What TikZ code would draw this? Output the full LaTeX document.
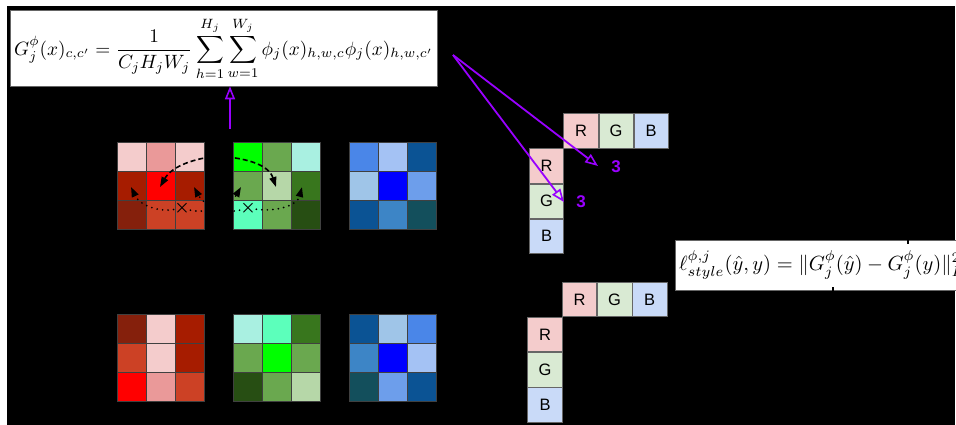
\documentclass[tikz,border=0pt]{standalone}
\usepackage{amsmath}
\usepackage{amssymb}
\usepackage{graphicx}
\usepackage{fontspec}
\newfontfamily\arial{Liberation Sans}
\usetikzlibrary{arrows.meta,positioning}
\definecolor{r1}{HTML}{F4CCCC}
\definecolor{r2}{HTML}{EA9999}
\definecolor{r3}{HTML}{A61C00}
\definecolor{r4}{HTML}{FF0000}
\definecolor{r5}{HTML}{85200C}
\definecolor{r6}{HTML}{CC4125}
\definecolor{g1}{HTML}{00FF00}
\definecolor{g2}{HTML}{6AA84F}
\definecolor{g3}{HTML}{A9F0E1}
\definecolor{g4}{HTML}{B6D7A8}
\definecolor{g5}{HTML}{38761D}
\definecolor{g6}{HTML}{5CFFBB}
\definecolor{g7}{HTML}{274E13}
\definecolor{b1}{HTML}{4A86E8}
\definecolor{b2}{HTML}{A4C2F4}
\definecolor{b3}{HTML}{0B5394}
\definecolor{b4}{HTML}{9FC5E8}
\definecolor{b5}{HTML}{0000FF}
\definecolor{b6}{HTML}{6D9EEB}
\definecolor{b7}{HTML}{3D85C6}
\definecolor{b8}{HTML}{134F5C}
\definecolor{pr}{HTML}{F4CCCC}
\definecolor{pg}{HTML}{D9EAD3}
\definecolor{pb}{HTML}{C9DAF8}
\definecolor{purp}{HTML}{9900FF}
\definecolor{boxline}{HTML}{666666}
\newcommand{\colgrid}[3]{%
  \foreach \cc [count=\k from 0] in {#3} {%
    \pgfmathtruncatemacro{\cx}{mod(\k,3)}%
    \pgfmathtruncatemacro{\cy}{div(\k,3)}%
    \filldraw[fill=\cc, draw=black!75, line width=0.8pt] ({#1+29*\cx},{#2+29*\cy}) rectangle ++(29,29);
  }}
\begin{document}
\begin{tikzpicture}[x=1pt,y=-1pt,
  rgbbox/.style={draw=boxline, line width=0.6pt, minimum width=34.5pt, minimum height=34.5pt, inner sep=0pt, font=\arial\fontsize{16.5}{18}\selectfont},
  eqbox/.style={fill=white, draw=boxline, line width=0.6pt, inner sep=0pt},
  purparrow/.style={draw=purp, line width=1.8pt, -{Triangle[open, length=13pt, width=10pt, line width=1.6pt]}},
  threelbl/.style={text=purp, font=\arial\bfseries\fontsize{17}{18}\selectfont, inner sep=0pt},
  dashline/.style={black, line width=1.6pt, dash pattern=on 5pt off 3pt, -{Triangle[length=10pt, width=7pt]}},
  dotline/.style={black, line width=1.9pt, line cap=round, dash pattern=on 0pt off 5.5pt, -{Triangle[length=10pt, width=7pt]}},
  xmark/.style={inner sep=0.5pt, font=\fontsize{16}{16}\selectfont}
]
\clip (0,0) rectangle (956,425);
\fill[white] (0,0) rectangle (956,425);
\fill[black] (7,6) rectangle (955,425);

% Gram formula box
\node[eqbox, minimum width=427pt, minimum height=76pt] (gram) at (223.5,48) {};
\node[anchor=west, inner sep=0pt] (gramtxt) at (14,49) {\scalebox{1.925}{$\displaystyle G_j^{\phi}(x)_{c,c'}=\frac{1}{C_jH_jW_j}\sum_{h=1}^{H_j}\sum_{w=1}^{W_j}\phi_j(x)_{h,w,c}\phi_j(x)_{h,w,c'}$}};

% loss box
\node[eqbox, anchor=north west, minimum width=320pt, minimum height=50pt] (loss) at (675,240) {};
\node[anchor=west, inner sep=0pt] (losstxt) at (679,265) {\scalebox{2.05}{$\ell^{\phi,j}_{style}(\hat{y},y)=\|G^{\phi}_j(\hat{y})-G^{\phi}_j(y)\|^2_F$}};
\coordinate (tkA) at (908,228);
\coordinate (tkB) at (833,302);
\draw[black, line width=1.6pt] (tkA) -- (tkA |- loss.north) -- ++(0,4);
\draw[black, line width=1.6pt] (tkB) -- (tkB |- loss.south) -- ++(0,-4);

% grids top
\colgrid{117}{142}{r1,r2,r1,r3,r4,r3,r5,r6,r6}
\colgrid{233}{142}{g1,g2,g3,g2,g4,g5,g6,g2,g7}
\colgrid{349}{142}{b1,b2,b3,b4,b5,b6,b3,b7,b8}
% grids bottom
\colgrid{117}{314}{r5,r1,r3,r6,r1,r3,r4,r2,r6}
\colgrid{233}{314}{g3,g6,g5,g2,g1,g2,g7,g2,g4}
\colgrid{349}{314}{b3,b4,b1,b7,b5,b2,b8,b6,b3}

% dashed arrows
\coordinate (ds) at (219,156);
\draw[dashline] (ds) .. controls (195,158) and (172,166) .. (160,187);
\draw[dashline] (ds) .. controls (242,158) and (268,163) .. (276,187);

% x marks and dotted arrows
\node[xmark] (x1) at (182,208) {$\boldsymbol{\times}$};
\node[xmark] (x2) at (248,208) {$\boldsymbol{\times}$};
\draw[dotline] (x1) .. controls (160,212) and (140,206) .. (131,187);
\draw[dotline] (x1) .. controls (205,214) and (230,206) .. (241,187);
\draw[dotline] (x2) .. controls (225,214) and (204,206) .. (194,187);
\draw[dotline] (x2) .. controls (275,212) and (297,206) .. (302,187);

% up arrow
\coordinate (up) at (230,129);
\draw[purparrow] (up) -- (up |- gram.south);

% RGB boxes top
\node[rgbbox, fill=pr] (tR) at (581,131) {R};
\node[rgbbox, fill=pg, right=0pt of tR] (tG) {G};
\node[rgbbox, fill=pb, right=0pt of tG] (tB) {B};
\node[rgbbox, fill=pr] (cR) at (546.5,166) {R};
\node[rgbbox, fill=pg, below=0pt of cR] (cG) {G};
\node[rgbbox, fill=pb, below=0pt of cG] (cB) {B};
% RGB boxes bottom
\node[rgbbox, fill=pr] (btR) at (579.5,299.5) {R};
\node[rgbbox, fill=pg, right=0pt of btR] (btG) {G};
\node[rgbbox, fill=pb, right=0pt of btG] (btB) {B};
\node[rgbbox, fill=pr] (bcR) at (545,334.5) {R};
\node[rgbbox, fill=pg, below=0pt of bcR] (bcG) {G};
\node[rgbbox, fill=pb, below=0pt of bcG] (bcB) {B};

% labels 3
\node[threelbl] (n1) at (616,167) {3};
\node[threelbl] (n2) at (581,202) {3};

% purple arrows
\coordinate (src) at (453,55);
\coordinate (e1) at (598,166);
\coordinate (e2) at (564,202);
\draw[purparrow] (src) -- (e1);
\draw[purparrow] (src) -- (e2);
\end{tikzpicture}
\end{document}
